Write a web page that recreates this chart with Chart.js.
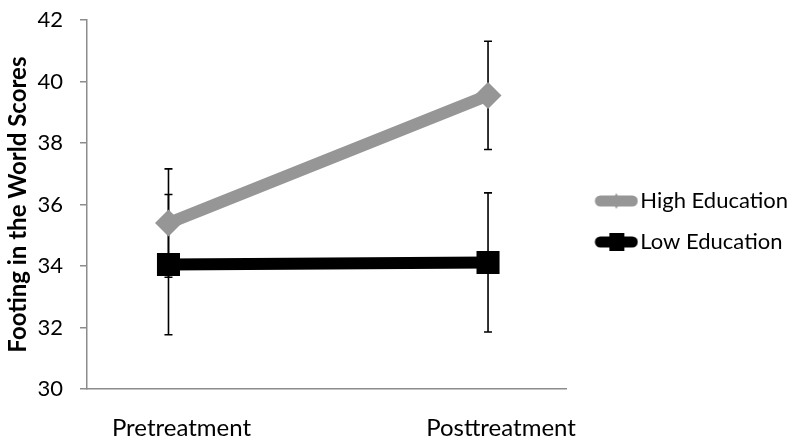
<!DOCTYPE html>
<html lang="en">
<head>
    <meta charset="UTF-8">
    <title>Footing in the World Scores</title>
    <script src="https://cdn.jsdelivr.net/npm/chart.js"></script>
</head>
<style>
    body {
    margin: 0;
    background-color: #ffffff;
}

.wrap {
    width: 800px;
    height: 443px;
}
</style>
<body>
    <div class="wrap">
        <canvas id="footingChart" width="800" height="443"></canvas>
    </div>
    <script>
    // data
    const categories = ['Pretreatment', 'Posttreatment'];
    const seriesNames = ['High Education', 'Low Education'];
    const highMeans = [35.4, 39.55];
    const highErrors = [1.76, 1.76];
    const lowMeans = [34.05, 34.12];
    const lowErrors = [2.28, 2.26];
    const yTicks = [30, 32, 34, 36, 38, 40, 42];

    const GRAY = 'rgb(150,150,150)';
    const FONT = 'Lato, "Open Sans", sans-serif';

    // legend sample: thick line with the marker in the middle
    function legendIcon(color, style) {
        const c = document.createElement('canvas');
        c.width = 62;
        c.height = 24;
        const g = c.getContext('2d');
        g.strokeStyle = color;
        g.fillStyle = color;
        g.lineWidth = 11;
        g.lineCap = 'round';
        g.beginPath();
        g.moveTo(24, 12);
        g.lineTo(56, 12);
        g.stroke();
        g.beginPath();
        if (style === 'diamond') {
            g.moveTo(40, 4); g.lineTo(44, 12); g.lineTo(40, 20); g.lineTo(36, 12);
        } else {
            g.rect(33, 3, 15, 18);
        }
        g.fill();
        return c;
    }
    const icons = [legendIcon(GRAY, 'diamond'), legendIcon('#000', 'square')];

    const errorBars = {
        id: 'errorBars',
        beforeDatasetsDraw(chart) {
            const ctx = chart.ctx;
            const x = chart.scales.x;
            const y = chart.scales.y;
            const sets = [[highMeans, highErrors], [lowMeans, lowErrors]];
            ctx.save();
            ctx.strokeStyle = '#000';
            ctx.lineWidth = 1.6;
            sets.forEach(([means, errs]) => {
                means.forEach((m, i) => {
                    const px = x.getPixelForValue(i);
                    const top = y.getPixelForValue(m + errs[i]);
                    const bot = y.getPixelForValue(m - errs[i]);
                    ctx.beginPath();
                    ctx.moveTo(px, top); ctx.lineTo(px, bot);
                    ctx.moveTo(px - 4, top); ctx.lineTo(px + 4, top);
                    ctx.moveTo(px - 4, bot); ctx.lineTo(px + 4, bot);
                    ctx.stroke();
                });
            });
            ctx.restore();
        }
    };

    const ctx = document.getElementById('footingChart').getContext('2d');
    new Chart(ctx, {
        type: 'line',
        data: {
            datasets: [{
                label: seriesNames[0],
                data: highMeans.map((v, i) => ({x: i, y: v})),
                borderColor: GRAY,
                backgroundColor: GRAY,
                borderWidth: 12,
                pointStyle: 'rectRot',
                pointRadius: 13.5,
                pointBorderWidth: 0,
                pointHoverRadius: 13.5
            }, {
                label: seriesNames[1],
                data: lowMeans.map((v, i) => ({x: i, y: v})),
                borderColor: '#000',
                backgroundColor: '#000',
                borderWidth: 12,
                pointStyle: 'rect',
                pointRadius: 16.3,
                pointBorderWidth: 0,
                pointHoverRadius: 16.3
            }]
        },
        options: {
            responsive: false,
            animation: false,
            layout: {
                padding: {left: 0, right: 2, top: 0, bottom: 0}
            },
            plugins: {
                tooltip: {enabled: false},
                legend: {
                    position: 'right',
                    maxWidth: 260,
                    labels: {
                        usePointStyle: true,
                        pointStyleWidth: 44,
                        padding: 19,
                        color: '#000',
                        font: {family: FONT, size: 22},
                        generateLabels(chart) {
                            return seriesNames.map((name, i) => ({
                                text: name,
                                pointStyle: icons[i],
                                fillStyle: 'transparent',
                                strokeStyle: 'transparent',
                                lineWidth: 0,
                                datasetIndex: i
                            }));
                        }
                    }
                }
            },
            scales: {
                x: {
                    type: 'linear',
                    min: -0.255,
                    max: 1.245,
                    afterBuildTicks(scale) {
                        scale.ticks = categories.map((c, i) => ({value: i}));
                    },
                    // drop the extra padding chart.js keeps under the labels
                    afterFit(scale) {
                        scale.height -= 25;
                    },
                    grid: {display: false, drawTicks: false},
                    border: {color: '#8c8c8c', width: 1.5},
                    ticks: {
                        labelOffset: 13,
                        padding: 25,
                        color: '#000',
                        font: {family: FONT, size: 24},
                        callback: (v) => categories[v]
                    }
                },
                y: {
                    min: 30,
                    max: 42,
                    afterBuildTicks(scale) {
                        scale.ticks = yTicks.map(v => ({value: v}));
                    },
                    afterFit(scale) {
                        scale.width = 87;
                        scale.paddingTop = 20;
                        scale.paddingBottom = 0;
                    },
                    grid: {
                        drawOnChartArea: false,
                        drawTicks: true,
                        tickLength: 7,
                        color: '#8c8c8c',
                        lineWidth: 1.5
                    },
                    border: {color: '#8c8c8c', width: 1.5},
                    ticks: {
                        padding: 17,
                        color: '#000',
                        font: {family: FONT, size: 22}
                    },
                    title: {
                        display: true,
                        text: 'Footing in the World Scores',
                        color: '#000',
                        font: {family: FONT, size: 24, weight: 'bold'},
                        padding: {top: 4, bottom: 0}
                    }
                }
            }
        },
        plugins: [errorBars]
    });
    </script>
</body>
</html>
